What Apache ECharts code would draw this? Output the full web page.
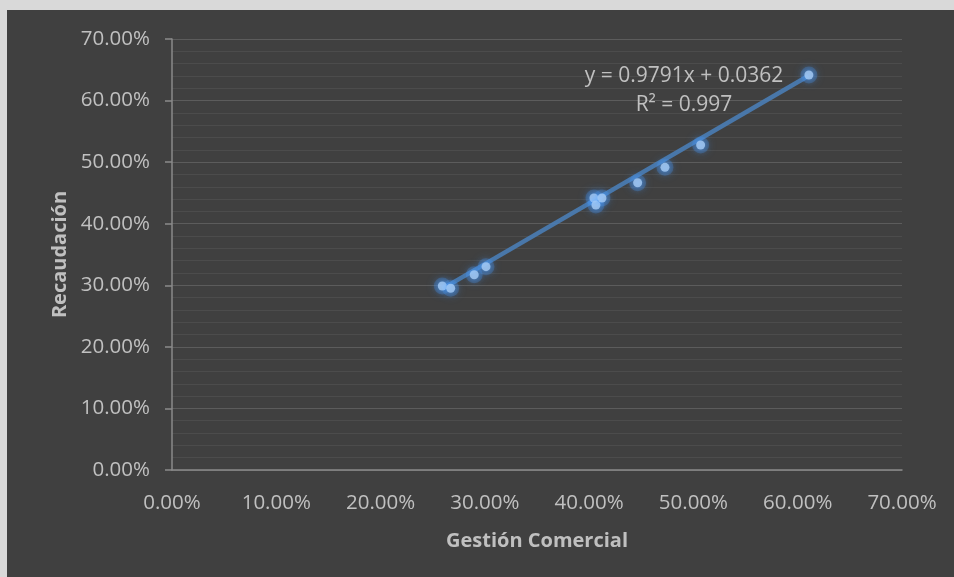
<!DOCTYPE html>
<html>
<head>
<meta charset="utf-8">
<script src="https://cdn.jsdelivr.net/npm/echarts@6/dist/echarts.min.js"></script>
<style>
html,body{margin:0;padding:0;background:#404040;}
#chart{width:954px;height:577px;}
</style>
</head>
<body>
<div id="chart"></div>
<script>
// Data (percent values)
const gestionComercial = [25.92, 26.72, 28.98, 30.11, 40.46, 40.65, 41.23, 44.65, 47.27, 50.69, 61.07];
const recaudacion      = [29.88, 29.51, 31.71, 33.02, 44.18, 43.04, 44.18, 46.66, 49.16, 52.79, 64.15];
const trendX = [25.95, 61.0];
const trendY = [29.45, 64.0];
const axisTicks = [0, 10, 20, 30, 40, 50, 60, 70];
const equationText = 'y = 0.9791x + 0.0362';
const r2Text = 'R² = 0.997';
const xTitle = 'Gestión Comercial';
const yTitle = 'Recaudación';

const points = gestionComercial.map((x, i) => [x, recaudacion[i]]);
const trend = trendX.map((x, i) => [x, trendY[i]]);

const FONT = 'Open Sans';
const TXT = '#c0c0c0';

const chart = echarts.init(document.getElementById('chart'));
chart.setOption({
  backgroundColor: '#404040',
  animation: false,
  grid: { left: 172, top: 39, right: 52, bottom: 107 },
  xAxis: {
    type: 'value', min: axisTicks[0], max: axisTicks[axisTicks.length - 1], interval: 10,
    name: xTitle, nameLocation: 'middle', nameGap: 61,
    nameTextStyle: { color: TXT, fontFamily: FONT, fontSize: 20, fontWeight: 'bold' },
    axisLine: { show: true, lineStyle: { color: '#8a8a8a', width: 1.5 } },
    axisTick: { show: false },
    splitLine: { show: false },
    axisLabel: { color: TXT, fontFamily: FONT, fontSize: 20.5, margin: 23,
      formatter: v => v.toFixed(2) + '%' }
  },
  yAxis: {
    type: 'value', min: axisTicks[0], max: axisTicks[axisTicks.length - 1], interval: 10,
    name: yTitle, nameLocation: 'middle', nameGap: 96, nameRotate: 90,
    nameTextStyle: { color: TXT, fontFamily: FONT, fontSize: 20, fontWeight: 'bold' },
    axisLine: { show: true, lineStyle: { color: '#8a8a8a', width: 1.5 } },
    axisTick: { show: true, inside: false, length: 7, lineStyle: { color: '#8a8a8a', width: 1.5 } },
    splitLine: { show: true, lineStyle: { color: '#5c5c5c', width: 1 } },
    minorTick: { show: false, splitNumber: 5 },
    minorSplitLine: { show: true, lineStyle: { color: '#4c4c4c', width: 1 } },
    axisLabel: { color: TXT, fontFamily: FONT, fontSize: 20.5, margin: 22,
      formatter: v => v.toFixed(2) + '%' }
  },
  graphic: [
    { type: 'rect', left: 0, top: 0, shape: { width: 954, height: 10 }, style: { fill: '#d9d9d9' }, z: 100 },
    { type: 'rect', left: 0, top: 0, shape: { width: 7, height: 577 }, style: { fill: '#d9d9d9' }, z: 100 },
    { type: 'text', x: 684, y: 66, z: 50,
      style: { text: equationText, fill: TXT, font: '21px "Open Sans"', textAlign: 'center', textVerticalAlign: 'top' } },
    { type: 'text', x: 684, y: 95, z: 50,
      style: { text: r2Text, fill: TXT, font: '21px "Open Sans"', textAlign: 'center', textVerticalAlign: 'top' } }
  ],
  series: [
    {
      type: 'line', data: trend, symbol: 'none', z: 2,
      lineStyle: { color: '#4a7db5', width: 4.5, opacity: 0.9 },
      silent: true
    },
    {
      type: 'scatter', data: points, symbol: 'circle', symbolSize: 17, z: 3, silent: true,
      itemStyle: { color: 'rgba(70,145,235,0.35)', shadowBlur: 8, shadowColor: 'rgba(70,145,235,0.8)' }
    },
    {
      type: 'scatter', data: points, symbol: 'circle', symbolSize: 9, z: 4,
      itemStyle: { color: '#a9cdf5', shadowBlur: 6, shadowColor: 'rgba(80,160,255,1)' }
    }
  ]
});
</script>
</body>
</html>
